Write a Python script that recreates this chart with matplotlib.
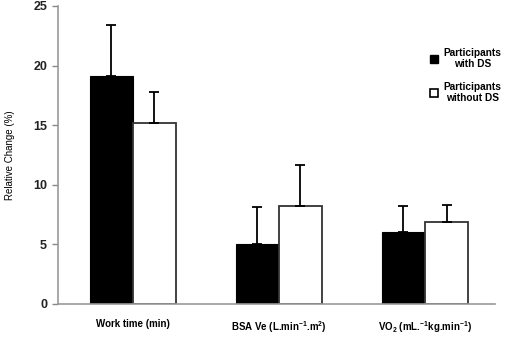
import matplotlib
matplotlib.use('Agg')
import matplotlib.pyplot as plt
from matplotlib.patches import Patch
import numpy as np

plt.rcParams['font.family'] = ['Liberation Sans', 'DejaVu Sans']
plt.rcParams['font.weight'] = 'bold'
plt.rcParams['mathtext.fontset'] = 'custom'
plt.rcParams['mathtext.rm'] = 'Liberation Sans:bold'
plt.rcParams['mathtext.it'] = 'Liberation Sans:bold'
plt.rcParams['mathtext.bf'] = 'Liberation Sans:bold'

categories = ['Work time (min)',
              r'BSA Ve (L.min$^{-1}$.m$^{2}$)',
              r'VO$_{2}$ (mL.$^{-1}$kg.min$^{-1}$)']
with_ds = [19.1, 5.0, 6.05]
with_ds_err = [4.3, 3.1, 2.15]
without_ds = [15.2, 8.2, 6.9]
without_ds_err = [2.6, 3.45, 1.4]
series_labels = ['Participants\nwith DS', 'Participants\nwithout DS']
yticks = [0, 5, 10, 15, 20, 25]

fig = plt.figure(figsize=(5.10, 3.49), dpi=100)
ax = fig.add_axes([0.114, 0.129, 0.857, 0.854])

x = np.arange(len(categories))
w = 0.295
edge = '#333333'

ax.bar(x - w / 2, with_ds, w, color='black', edgecolor='black', linewidth=0.8,
       yerr=[np.zeros(3), with_ds_err], error_kw=dict(ecolor='black', elinewidth=1.3, capsize=3.5, capthick=1.3),
       zorder=2)
ax.bar(x + w / 2, without_ds, w, color='white', edgecolor=edge, linewidth=1.3,
       yerr=[np.zeros(3), without_ds_err], error_kw=dict(ecolor='black', elinewidth=1.3, capsize=3.5, capthick=1.3),
       zorder=2)

ax.set_xlim(-0.51, 2.48)
ax.set_ylim(0, 25)
ax.set_yticks(yticks)
ax.set_yticklabels([str(v) for v in yticks], fontsize=9, color='#222222')
ax.set_xticks(x)
ax.set_xticklabels(categories, fontsize=7)
ax.tick_params(axis='x', length=0, pad=11)
ax.tick_params(axis='y', length=4, width=1, color='#888888', pad=4)
ax.set_ylabel('Relative Change (%)', fontsize=7, labelpad=13)

for s in ['top', 'right']:
    ax.spines[s].set_visible(False)
for s in ['left', 'bottom']:
    ax.spines[s].set_color('#999999')
    ax.spines[s].set_linewidth(1.2)

handles = [Patch(facecolor='black', edgecolor='black'),
           Patch(facecolor='white', edgecolor='black', linewidth=1.2)]
leg = ax.legend(handles, series_labels, loc='upper right', bbox_to_anchor=(1.035, 0.89),
                frameon=False, fontsize=7.3, handlelength=0.8, handleheight=0.8,
                handletextpad=0.5, labelspacing=1.2)
for t in leg.get_texts():
    t.set_multialignment('center')

fig.savefig('out.png', dpi=100)
